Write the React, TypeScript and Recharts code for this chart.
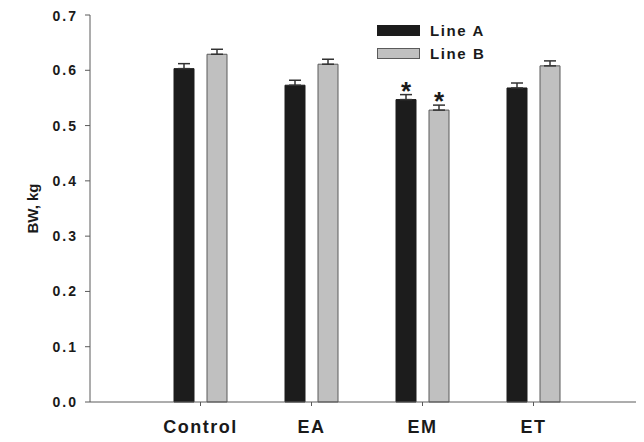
import { Bar, BarChart, ErrorBar, LabelList, XAxis, YAxis } from "recharts";

const groups = ["Control", "EA", "EM", "ET"];
const lineA = [0.603, 0.573, 0.547, 0.568];
const lineB = [0.629, 0.611, 0.528, 0.608];
const semA = [0.009, 0.009, 0.009, 0.009];
const semB = [0.009, 0.009, 0.009, 0.009];
const sigA = ["", "", "*", ""];
const sigB = ["", "", "*", ""];
const yTicks = [0, 0.1, 0.2, 0.3, 0.4, 0.5, 0.6, 0.7];

const rows = groups.map((g, i) => ({
  group: g,
  a: lineA[i],
  b: lineB[i],
  // only the upper whisker is drawn
  errA: [0, semA[i]],
  errB: [0, semB[i]],
  sigA: sigA[i],
  sigB: sigB[i],
}));

const font = "'Liberation Sans', Arial, sans-serif";
const axisGray = "#5a5a5a";

const series = [
  { key: "a", label: "Line A", fill: "#1c1c1c", stroke: "#1c1c1c" },
  { key: "b", label: "Line B", fill: "#c0c0c0", stroke: "#5a5a5a" },
];

function Star(props: any) {
  const { x, y, width, value } = props;
  if (!value) return null;
  return (
    <text x={x + width / 2} y={y} textAnchor="middle" fontSize={26} fontWeight="bold" fill="#1a1a1a" fontFamily={font}>
      {value}
    </text>
  );
}

// key drawn over the plot, top right
function KeyBox() {
  return (
    <div style={{ position: "absolute", top: 11, left: 369, fontFamily: font }}>
      {series.map((it) => (
        <div key={it.label} style={{ display: "flex", alignItems: "center", height: 23 }}>
          <div style={{ width: 41, height: 9, background: it.fill, border: `1px solid ${it.stroke}` }} />
          <span style={{ marginLeft: 10, fontSize: 15, fontWeight: "bold", letterSpacing: 1.6, color: "#1a1a1a" }}>
            {it.label}
          </span>
        </div>
      ))}
    </div>
  );
}

export default function App() {
  return (
    <div style={{ position: "relative", background: "#fff", width: 636, height: 434 }}>
      <BarChart width={636} height={434} data={rows} margin={{ top: 7, right: 0, bottom: 0, left: 0 }} barSize={20} barGap={13}>
        <XAxis
          dataKey="group"
          height={40}
          padding={{ left: 55, right: 55 }}
          stroke={axisGray}
          tickSize={4}
          tickMargin={14}
          tick={{ fontSize: 18, fontWeight: "bold", fill: "#1a1a1a", fontFamily: font, letterSpacing: 1.5 }}
        />
        <YAxis
          width={82}
          domain={[0, 0.7]}
          ticks={yTicks}
          tickFormatter={(v: number) => v.toFixed(1)}
          stroke={axisGray}
          tickSize={5}
          tickMargin={7}
          tick={{ fontSize: 14, fontWeight: "bold", fill: "#1a1a1a", fontFamily: font, letterSpacing: 2 }}
          label={{
            value: "BW, kg",
            angle: -90,
            position: "insideLeft",
            offset: 25,
            style: { fontSize: 15, fontWeight: "bold", fill: "#1a1a1a", fontFamily: font, textAnchor: "middle" },
          }}
        />
        {series.map((s) => (
          <Bar key={s.key} dataKey={s.key} name={s.label} fill={s.fill} stroke={s.stroke} strokeWidth={1} isAnimationActive={false}>
            <ErrorBar dataKey={s.key === "a" ? "errA" : "errB"} width={6} stroke="#333" strokeWidth={1.5} />
            <LabelList dataKey={s.key === "a" ? "sigA" : "sigB"} content={<Star />} />
          </Bar>
        ))}
      </BarChart>
      <KeyBox />
    </div>
  );
}
